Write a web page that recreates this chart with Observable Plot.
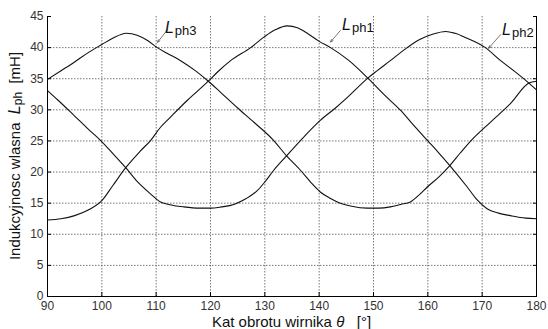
<!DOCTYPE html>
<html>
<head>
<meta charset="utf-8">
<script src="https://cdn.jsdelivr.net/npm/d3@7"></script>
<script src="https://cdn.jsdelivr.net/npm/@observablehq/plot@0.6"></script>
<style>
  body { margin: 0; background: #fff; }
  #chart { width: 548px; height: 329px; }
</style>
</head>
<body>
<div id="chart"></div>
<script>
// Self-inductance of the three phase windings vs. rotor angle
const xTicks = [90, 100, 110, 120, 130, 140, 150, 160, 170, 180];
const yTicks = [0, 5, 10, 15, 20, 25, 30, 35, 40, 45];

const lph1Angle = [90, 92.5, 95, 97.5, 100, 102, 104.4, 107, 109, 110.8, 112.6, 115.7, 119.6, 121.2, 123.7, 127.4, 130, 132, 134.1, 136, 138, 140, 142.1, 145.5, 148.95, 152, 155, 157, 159.9, 162, 164.05, 167.25, 169, 170.9, 173, 175.2, 178, 180];
const lph1Value = [12.3, 12.5, 13.0, 13.9, 15.4, 17.8, 20.7, 23.3, 25.1, 27.2, 28.8, 31.5, 34.6, 36.0, 37.9, 40.0, 41.8, 42.9, 43.5, 43.2, 42.2, 41.0, 40.0, 37.9, 35.1, 32.4, 29.9, 27.9, 25.1, 23.1, 21.05, 17.6, 15.6, 14.1, 13.4, 13.0, 12.6, 12.5];

const lph2Angle = [90, 92, 95, 97.5, 99.75, 102, 104.4, 106.5, 108.96, 110.8, 112.3, 115.1, 118, 120, 122, 124.3, 126.5, 128.6, 130, 131.6, 134, 136.6, 140.2, 143, 145.2, 148.95, 150.7, 153.1, 156.2, 158.5, 161, 163.3, 165, 167, 170.6, 173.4, 175.8, 178.6, 180];
const lph2Value = [33.1, 31.5, 29.0, 26.9, 25.1, 23.0, 20.7, 18.5, 16.5, 15.2, 14.8, 14.4, 14.2, 14.2, 14.4, 14.8, 15.7, 17.0, 18.4, 20.25, 22.6, 25.1, 28.3, 30.3, 32.0, 35.1, 36.3, 37.9, 40.0, 41.3, 42.2, 42.6, 42.3, 41.6, 40.0, 37.9, 36.3, 34.3, 33.2];

const lph3Angle = [90, 92.7, 95, 97.5, 100, 102, 104.5, 106.5, 108.5, 110.2, 112, 114.5, 117.2, 119.6, 122, 125, 128, 131.6, 134, 136.6, 138.5, 140.2, 142, 143.9, 146, 148.8, 151, 153.1, 155, 156.8, 158.5, 159.9, 162, 164.05, 166, 168, 171.5, 175.2, 178.6, 180];
const lph3Value = [34.9, 36.4, 37.7, 39.2, 40.5, 41.5, 42.3, 42.0, 41.1, 40.0, 39.1, 37.9, 36.3, 34.6, 32.7, 30.3, 28.0, 25.1, 22.6, 20.25, 18.3, 16.8, 15.8, 15.0, 14.5, 14.2, 14.2, 14.4, 14.8, 15.2, 16.4, 17.6, 19.2, 21.05, 23.1, 25.1, 28.0, 31.0, 34.3, 34.6];

// Curve annotations: subscript text, label anchor, arrow tail and head
const labelSub = ["ph3", "ph1", "ph2"];
const labelAngle = [111.7, 144.3, 173.75];
const labelValue = [42.2, 42.75, 41.95];
const arrowFromAngle = [112.1, 143.9, 173.4];
const arrowFromValue = [42.9, 42.75, 42.1];
const arrowToAngle = [110.25, 142.1, 171.2];
const arrowToValue = [40.85, 40.9, 39.9];

const series = [
  {name: "Lph1", angle: lph1Angle, value: lph1Value},
  {name: "Lph2", angle: lph2Angle, value: lph2Value},
  {name: "Lph3", angle: lph3Angle, value: lph3Value}
];
const points = series.flatMap(s => s.angle.map((a, i) => ({name: s.name, angle: a, value: s.value[i]})));
const labels = labelSub.map((sub, i) => ({
  sub, angle: labelAngle[i], value: labelValue[i],
  x1: arrowFromAngle[i], y1: arrowFromValue[i], x2: arrowToAngle[i], y2: arrowToValue[i]
}));

const inner = (d, i, arr) => i > 0 && i < arr.length - 1;
const gridStyle = {stroke: "#555", strokeOpacity: 1, strokeWidth: 0.8, strokeDasharray: "1.5,1.5"};

const chart = Plot.plot({
  width: 548,
  height: 329,
  marginLeft: 47,
  marginRight: 12,
  marginTop: 16,
  marginBottom: 33,
  style: {fontFamily: "'Liberation Sans', Arial, sans-serif", fontSize: "12px", color: "#333", background: "#fff"},
  x: {domain: [90, 180]},
  y: {domain: [0, 45]},
  marks: [
    Plot.gridX(xTicks.filter(inner), gridStyle),
    Plot.gridY(yTicks.filter(inner), gridStyle),
    Plot.axisX(xTicks, {tickSize: 0, tickPadding: 5, label: null}),
    Plot.axisY(yTicks, {tickSize: 0, tickPadding: 4, label: null}),
    Plot.axisX(xTicks, {tickSize: -4, tickFormat: () => "", label: null, stroke: "#000"}),
    Plot.axisY(yTicks, {tickSize: -4, tickFormat: () => "", label: null, stroke: "#000"}),
    Plot.axisY(yTicks, {anchor: "right", tickSize: -4, tickFormat: () => "", label: null, stroke: "#000"}),
    Plot.ruleX([90, 180], {stroke: "#000", strokeWidth: 1}),
    Plot.ruleY([0], {stroke: "#000", strokeWidth: 1}),
    Plot.line(points, {x: "angle", y: "value", z: "name", stroke: "#111", strokeWidth: 1.1, curve: "monotone-x"}),
    Plot.arrow(labels, {x1: "x1", y1: "y1", x2: "x2", y2: "y2", stroke: "#555", strokeWidth: 0.8, headLength: 5, headAngle: 45})
  ]
});

document.getElementById("chart").append(chart);

const sx = chart.scale("x");
const sy = chart.scale("y");
const svg = d3.select(chart);
const font = "'Liberation Sans', Arial, sans-serif";

// Curve name labels: italic L with subscript phase name
labels.forEach(d => {
  const t = svg.append("text")
    .attr("x", sx.apply(d.angle))
    .attr("y", sy.apply(d.value))
    .attr("text-anchor", "start")
    .attr("font-family", font)
    .attr("fill", "#111");
  t.append("tspan").attr("font-style", "italic").attr("font-size", 16).text("L");
  t.append("tspan").attr("font-size", 13).attr("dx", 1).attr("dy", 2).text(d.sub);
});

// Axis titles
const xt = svg.append("text")
  .attr("x", (sx.range[0] + sx.range[1]) / 2)
  .attr("y", 327)
  .attr("text-anchor", "middle")
  .attr("font-family", font)
  .attr("font-size", 15)
  .attr("fill", "#111");
xt.append("tspan").text("Kat obrotu wirnika ");
xt.append("tspan").attr("font-style", "italic").text("θ");
xt.append("tspan").text("\u00a0\u00a0\u00a0[°]");

const yt = svg.append("text")
  .attr("transform", `translate(20,${(sy.range[0] + sy.range[1]) / 2}) rotate(-90)`)
  .attr("text-anchor", "middle")
  .attr("font-family", font)
  .attr("font-size", 15)
  .attr("fill", "#111");
yt.append("tspan").text("Indukcyjnosc wlasna\u00a0\u00a0");
yt.append("tspan").attr("font-style", "italic").attr("font-size", 16).text("L");
yt.append("tspan").attr("font-size", 12).attr("dy", 2).text("ph");
yt.append("tspan").attr("dy", -2).text("\u00a0\u00a0[mH]");
</script>
</body>
</html>
